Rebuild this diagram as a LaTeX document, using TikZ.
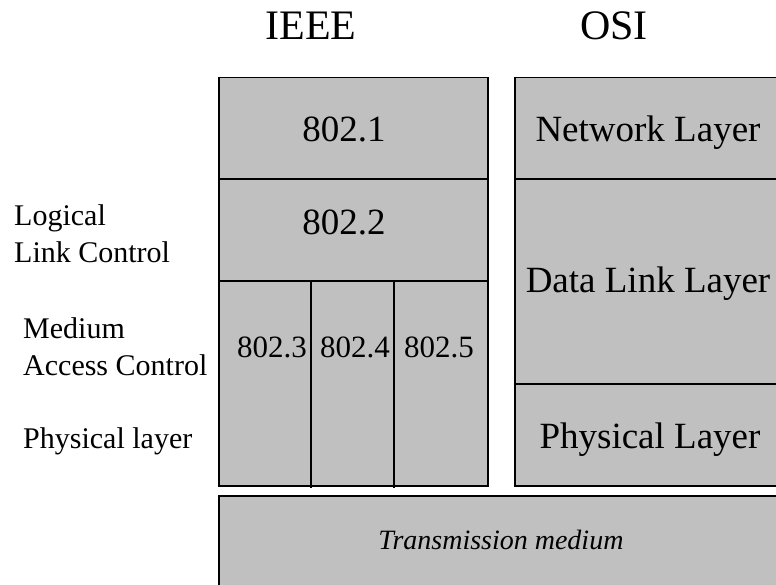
\documentclass[tikz,border=0pt]{standalone}
\usepackage{fontspec}
\setmainfont{Liberation Serif}
\definecolor{boxgray}{HTML}{C0C0C0}
\begin{document}
\begin{tikzpicture}[x=1pt,y=-1pt,
  stack/.style={draw=black,fill=boxgray,line width=1.5pt,inner sep=0pt,anchor=north west},
  thickdiv/.style={draw=black,line width=2pt},
  thindiv/.style={draw=black,line width=1.1pt},
  head/.style={anchor=base,inner sep=0pt,font=\fontsize{42}{48}\selectfont},
  big/.style={anchor=base,inner sep=0pt,font=\fontsize{37}{44}\selectfont},
  mid/.style={anchor=base,inner sep=0pt,font=\fontsize{31}{37}\selectfont},
  side/.style={anchor=base west,inner sep=0pt,font=\fontsize{30}{36}\selectfont},
  medtext/.style={anchor=base,inner sep=0pt,font=\fontsize{28}{34}\selectfont\itshape}]
\useasboundingbox (0,0) rectangle (776,585);

% headers
\node[head] (hieee) at (311,40) {IEEE};
\node[head] (hosi) at (614,40) {OSI};

% IEEE stack
\node[stack,minimum width=269pt,minimum height=408pt] (ieee) at (218,77) {};
\draw[thickdiv] (ieee.west |- 0,179) coordinate (a1) -- (ieee.east |- 0,179) coordinate (a2);
\draw[thickdiv] (ieee.west |- 0,281) coordinate (b1) -- (ieee.east |- 0,281) coordinate (b2);
\coordinate (c1t) at (311,281);
\coordinate (c1b) at (311,488);
\coordinate (c2t) at (394,281);
\coordinate (c2b) at (394,488);
\draw[thindiv] (c1t) -- (c1b);
\draw[thindiv] (c2t) -- (c2b);

\node[big] (t8021) at (344,142) {802.1};
\node[big] (t8022) at (344,235) {802.2};
\node[mid] (t8023) at (272,357) {802.3};
\node[mid] (t8024) at (355,357) {802.4};
\node[mid] (t8025) at (439,357) {802.5};

% OSI stack
\node[stack,minimum width=268pt,minimum height=408pt] (osi) at (514,77) {};
\draw[thickdiv] (osi.west |- 0,179) coordinate (d1) -- (osi.east |- 0,179) coordinate (d2);
\draw[thickdiv] (osi.west |- 0,384) coordinate (e1) -- (osi.east |- 0,384) coordinate (e2);
\node[big] (tnet) at (648,142) {Network Layer};
\node[big] (tdl) at (648,292) {Data Link Layer};
\node[big] (tphy) at (650,448) {Physical Layer};

% transmission medium
\node[stack,minimum width=564pt,minimum height=92pt] (medium) at (218,495) {};
\node[medtext] (tmed) at (501,549) {Transmission medium};

% side labels
\node[side] (llc1) at (14,226) {Logical};
\node[side] (llc2) at (14,263) {Link Control};
\node[side] (mac1) at (23,338) {Medium};
\node[side] (mac2) at (23,375) {Access Control};
\node[side] (phl) at (23,448) {Physical layer};
\end{tikzpicture}
\end{document}
